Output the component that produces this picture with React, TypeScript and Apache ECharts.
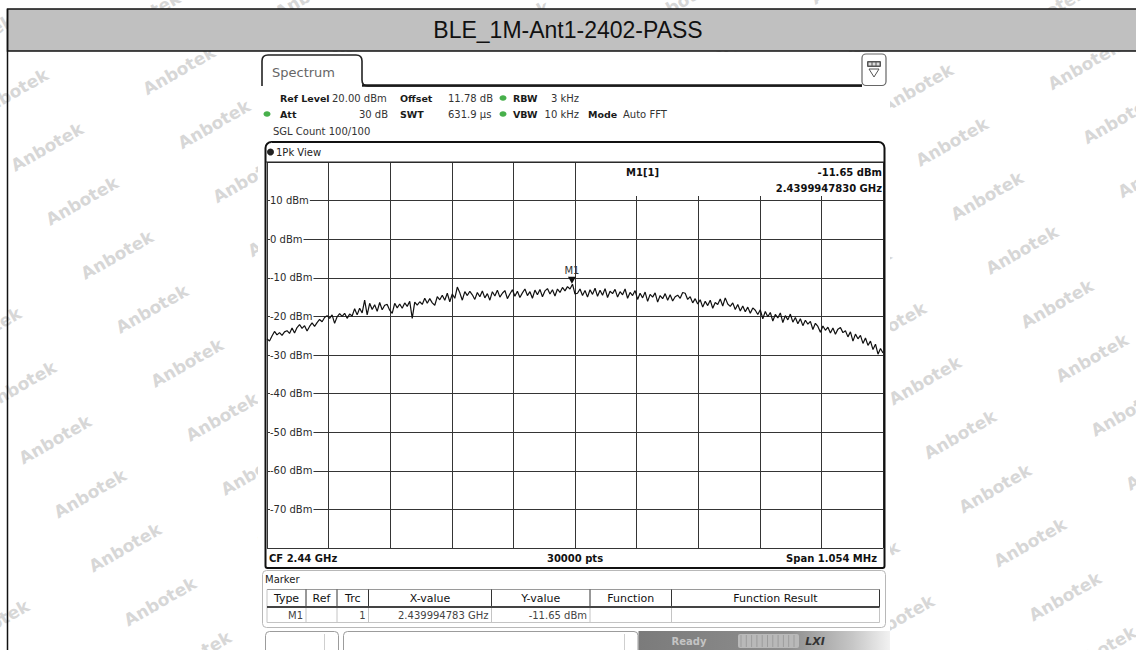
import React, { useEffect, useRef } from "react";
import * as echarts from "echarts";

// ---------- data ----------
const TITLE = "BLE_1M-Ant1-2402-PASS";
const SPAN_KHZ = 1054; // x axis: offset from start frequency (kHz), span 1.054 MHz
const Y_MIN = -80;
const Y_MAX = 20;
const Y_STEP = 10;
const yTickLabels = ["10 dBm", "0 dBm", "-10 dBm", "-20 dBm", "-30 dBm", "-40 dBm", "-50 dBm", "-60 dBm", "-70 dBm"];

// trace levels (dBm), evenly spaced across the span
const traceLevels = [
  -25.8, -26.4, -25.1, -23.9, -24.8, -24.2, -24.9, -24.0, -23.7, -24.4,
  -23.0, -24.3, -22.9, -22.1, -23.1, -22.4, -23.8, -22.6, -21.7, -22.6,
  -21.6, -20.8, -21.4, -20.3, -19.8, -20.5, -19.6, -21.8, -20.1, -19.3,
  -20.0, -19.2, -20.5, -19.4, -19.9, -18.0, -19.6, -17.9, -19.1, -15.8,
  -19.6, -16.6, -18.2, -17.0, -18.7, -16.4, -18.3, -17.1, -16.9, -18.4,
  -19.2, -16.6, -17.8, -16.8, -17.9, -16.5, -17.4, -16.1, -20.5, -16.3,
  -17.1, -16.2, -16.9, -15.3, -16.6, -15.4, -16.5, -17.1, -14.9, -15.7,
  -14.5, -15.8, -14.0, -16.2, -14.2, -15.3, -12.4, -13.9, -15.8, -13.6,
  -14.6, -13.5, -14.4, -15.6, -13.8, -14.9, -13.4, -15.2, -14.1, -15.8,
  -13.6, -14.7, -13.2, -15.0, -14.0, -13.3, -15.4, -14.2, -13.1, -14.8,
  -13.5, -15.1, -13.9, -12.9, -14.6, -13.6, -15.3, -13.2, -14.4, -13.0,
  -14.9, -13.4, -12.8, -14.2, -13.1, -14.7, -12.9, -13.8, -12.5, -13.4,
  -12.3, -12.9, -11.65, -14.2, -14.0, -12.9, -14.6, -13.3, -15.0, -13.1,
  -14.3, -12.7, -14.8, -13.2, -14.5, -12.8, -15.1, -13.5, -14.1, -13.0,
  -15.0, -13.6, -14.4, -12.9, -15.3, -13.8, -14.6, -13.3, -15.6, -14.0,
  -15.2, -13.7, -16.1, -14.3, -15.0, -13.9, -16.3, -14.6, -15.4, -14.1,
  -15.8, -14.4, -16.0, -14.9, -14.5, -15.3, -13.8, -14.0, -15.6, -14.9,
  -16.5, -15.4, -16.8, -15.7, -17.6, -16.1, -17.2, -15.8, -17.9, -16.4,
  -16.9, -15.5, -17.3, -15.2, -16.8, -17.4, -16.5, -18.2, -16.9, -18.6,
  -17.3, -18.8, -17.6, -19.2, -17.8, -18.4, -19.5, -18.3, -20.6, -18.7,
  -20.1, -19.0, -21.2, -19.5, -20.4, -19.1, -21.6, -19.8, -20.9, -19.4,
  -21.5, -20.3, -21.9, -20.6, -22.4, -21.0, -22.0, -21.3, -23.4, -21.8,
  -22.6, -24.1, -22.5, -23.6, -22.8, -24.3, -23.0, -24.6, -23.3, -22.9,
  -24.2, -23.7, -25.3, -24.0, -26.4, -24.6, -25.8, -24.9, -27.0, -25.6,
  -27.5, -26.4, -28.6, -27.2, -29.8, -28.3, -29.5,
];

const markerName = "M1";
const markerOffsetKHz = 521.783; // 2.439994783 GHz - (2.44 GHz - 0.527 MHz)
const markerLevel = -11.65;

const headerRow1 = [
  { t: "Ref Level", b: true, x: 280 },
  { t: "20.00 dBm", b: false, x: 332 },
  { t: "Offset", b: true, x: 400 },
  { t: "11.78 dB", b: false, x: 448 },
  { t: "RBW", b: true, x: 513 },
  { t: "3 kHz", b: false, x: 579, r: true },
];
const headerRow2 = [
  { t: "Att", b: true, x: 280 },
  { t: "30 dB", b: false, x: 388, r: true },
  { t: "SWT", b: true, x: 400 },
  { t: "631.9 µs", b: false, x: 448 },
  { t: "VBW", b: true, x: 513 },
  { t: "10 kHz", b: false, x: 579, r: true },
  { t: "Mode", b: true, x: 588 },
  { t: "Auto FFT", b: false, x: 623 },
];
const tableHeaders = ["Type", "Ref", "Trc", "X-value", "Y-value", "Function", "Function Result"];
const tableRow = ["M1", "", "1", "2.439994783 GHz", "-11.65 dBm", "", ""];

// ---------- drawing helpers ----------
const FONT = '"DejaVu Sans", sans-serif';
const TAB_PATH = "M262 86 L262 61 Q262 55 268 55 L356 55 Q362 55 362 61 L362 80 Q362 86 368 86 L862 86";
try {
  echarts.graphic.registerShape("tabShape", echarts.graphic.extendPath(TAB_PATH, {}) as any);
} catch (e) {}

function txt(x: number, y: number, text: string, o: any = {}) {
  const size = o.size ?? 10;
  const weight = o.bold ? "bold " : "";
  const italic = o.italic ? "italic " : "";
  const align = o.align ?? "left";
  return {
    type: "text",
    x,
    y,
    z: o.z ?? 100,
    rotation: o.rotation ?? 0,
    silent: true,
    style: {
      text,
      font: `${italic}${weight}${size}px ${o.family ?? FONT}`,
      fill: o.color ?? "#222",
      align,
      textAlign: align,
      verticalAlign: "middle",
      textVerticalAlign: "middle",
    },
  };
}
function line(x1: number, y1: number, x2: number, y2: number, color: string, w = 1, z = 100) {
  return { type: "line", z, silent: true, shape: { x1, y1, x2, y2 }, style: { stroke: color, lineWidth: w } };
}
function rect(x: number, y: number, w: number, h: number, style: any, r: any = 0, z = 100) {
  return { type: "rect", z, silent: true, shape: { x, y, width: w, height: h, r }, style };
}

function buildGraphics() {
  const g: any[] = [];
  // watermark lattice
  for (let i = -10; i <= 18; i++) {
    for (let j = -4; j <= 10; j++) {
      const x = 47 + 35 * i + 167 * j;
      const y = 147 + 54 * i - 22.6 * j;
      if (x > -70 && x < 1210 && y > -30 && y < 695) {
        g.push(txt(x, y, "Anbotek", { size: 17, bold: true, color: "#d7d7d7", align: "center", rotation: 0.52, z: -3 }));
      }
    }
  }
  // title band and outer frame
  g.push(rect(7.5, 9, 1140, 42, { fill: "#c0c0c0", stroke: "#111", lineWidth: 1.5 }, 0, -2));
  g.push(line(7.5, 9, 7.5, 660, "#111", 1.5, -2));
  g.push(txt(568, 30, TITLE, { size: 23, family: '"Liberation Sans", Arial, sans-serif', color: "#111", align: "center", z: -1 }));
  // screenshot background
  g.push(rect(258, 52, 632, 600, { fill: "#fff" }, 0, -2));

  // tab + header
  g.push({ type: "tabShape", x: 0, y: 0, z: 100, silent: true, style: { fill: "none", stroke: "#222", lineWidth: 1.6 } });
  g.push(line(362, 85.5, 862, 85.5, "#1a1a1a", 2.4));
  g.push(txt(272, 72, "Spectrum", { size: 13, color: "#666" }));
  // icon
  g.push(rect(862, 54, 24, 31.5, { fill: "#fff", stroke: "#666", lineWidth: 1.2 }, 4));
  g.push(rect(867, 61, 14, 6, { fill: "#555" }, 1));
  g.push(rect(868.5, 62.5, 3, 3, { fill: "#ddd" }));
  g.push(rect(872.5, 62.5, 3, 3, { fill: "#ddd" }));
  g.push(rect(876.5, 62.5, 3, 3, { fill: "#ddd" }));
  g.push({ type: "polygon", z: 100, silent: true, shape: { points: [[869, 69], [879, 69], [874, 77]] }, style: { fill: "none", stroke: "#555", lineWidth: 1 } });

  headerRow1.forEach((h) => g.push(txt(h.x, 98, h.t, { bold: h.b, size: h.b ? 9.5 : 10, color: h.b ? "#1a1a1a" : "#333", align: h.r ? "right" : "left" })));
  headerRow2.forEach((h) => g.push(txt(h.x, 114, h.t, { bold: h.b, size: h.b ? 9.5 : 10, color: h.b ? "#1a1a1a" : "#333", align: h.r ? "right" : "left" })));
  g.push(txt(273, 131, "SGL Count 100/100", { color: "#333" }));
  [[503, 98], [267, 114], [503, 114]].forEach(([cx, cy]) =>
    g.push({ type: "ellipse", z: 100, silent: true, shape: { cx, cy, rx: 3.5, ry: 2.8 }, style: { fill: "#47b04b" } })
  );

  // diagram frame
  g.push(rect(265.5, 142, 619, 426, { fill: "none", stroke: "#111", lineWidth: 2 }, [6, 6, 2, 2]));
  g.push(line(266, 162, 884, 162, "#222", 1.2));
  g.push({ type: "circle", z: 100, silent: true, shape: { cx: 270.5, cy: 152, r: 3.5 }, style: { fill: "#222" } });
  g.push(txt(276, 152, "1Pk View", { color: "#222" }));
  // marker info box
  g.push(rect(577, 163, 305.5, 33, { fill: "#fff" }));
  g.push(txt(626, 172, "M1[1]", { bold: true, color: "#111" }));
  g.push(txt(882, 172, "-11.65 dBm", { bold: true, color: "#111", align: "right" }));
  g.push(txt(882, 188, "2.4399947830 GHz", { bold: true, color: "#111", align: "right" }));
  // status row
  g.push(txt(269, 558, "CF 2.44 GHz", { bold: true, color: "#111" }));
  g.push(txt(575, 558, "30000 pts", { bold: true, color: "#111", align: "center" }));
  g.push(txt(877, 558, "Span 1.054 MHz", { bold: true, color: "#111", align: "right" }));

  // marker panel
  g.push(rect(262.5, 570.5, 623, 57, { fill: "#fff", stroke: "#b8b8b8", lineWidth: 1 }, 4));
  g.push(txt(265, 579, "Marker", { color: "#222" }));
  const cols = [267, 306, 337, 368.5, 491.5, 590, 671.5, 879.5];
  g.push(line(267, 589.5, 879.5, 589.5, "#9a9a9a", 1));
  g.push(line(267, 622.5, 879.5, 622.5, "#c4c4c4", 1));
  g.push(line(267, 589.5, 267, 622.5, "#c4c4c4", 1));
  cols.slice(1).forEach((cx) => {
    g.push(line(cx, 589.5, cx, 607, "#333", 1));
    g.push(line(cx, 607, cx, 622.5, "#c4c4c4", 1));
  });
  g.push(line(267, 607, 879.5, 607, "#444", 2));
  tableHeaders.forEach((h, k) => g.push(txt((cols[k] + cols[k + 1]) / 2, 598, h, { size: 11, color: "#111", align: "center" })));
  tableRow.forEach((v, k) => {
    if (v) g.push(txt(cols[k + 1] - 3, 615.5, v, { color: "#444", align: "right" }));
  });

  // bottom bar
  g.push(rect(265.5, 631.5, 73, 25, { fill: "#fff", stroke: "#9c9c9c", lineWidth: 1 }, [4, 4, 0, 0]));
  g.push(line(324.5, 634, 324.5, 650, "#cfcfcf", 1));
  g.push(rect(343.5, 631.5, 294.5, 25, { fill: "#fff", stroke: "#9c9c9c", lineWidth: 1 }, [4, 4, 0, 0]));
  g.push(line(624.5, 634, 624.5, 650, "#cfcfcf", 1));
  g.push(
    rect(638.5, 631, 251.5, 20, {
      fill: new echarts.graphic.LinearGradient(0, 0, 1, 0, [
        { offset: 0, color: "#7b7b7b" },
        { offset: 0.6, color: "#8e8e8e" },
        { offset: 0.85, color: "#c6c6c6" },
        { offset: 1, color: "#f2f2f2" },
      ]),
    })
  );
  g.push(txt(689, 641, "Ready", { bold: true, color: "#c4c4c4", align: "center" }));
  g.push(rect(738, 634, 61, 14, { fill: "#b9b9b9" }, 2));
  for (let k = 0; k < 11; k++) g.push(line(741 + k * 5.3, 635, 741 + k * 5.3, 647, "#9d9d9d", 1));
  g.push(txt(815, 641, "LXI", { bold: true, italic: true, size: 11, color: "#333", align: "center" }));
  return g;
}

export default function App() {
  const ref = useRef<HTMLDivElement>(null);
  useEffect(() => {
    if (!ref.current) return;
    const chart = echarts.init(ref.current, null, { renderer: "svg" });
    const n = traceLevels.length;
    const data = traceLevels.map((v, i) => [(i * SPAN_KHZ) / (n - 1), v]);
    chart.setOption({
      animation: false,
      backgroundColor: "#fff",
      textStyle: { fontFamily: FONT },
      grid: { left: 267, top: 162, width: 616, height: 386, containLabel: false },
      xAxis: {
        type: "value",
        min: 0,
        max: SPAN_KHZ,
        interval: SPAN_KHZ / 10,
        axisLine: { show: false },
        axisTick: { show: false },
        axisLabel: { show: false },
        splitLine: { show: true, lineStyle: { color: "#353535", width: 1 } },
      },
      yAxis: {
        type: "value",
        min: Y_MIN,
        max: Y_MAX,
        interval: Y_STEP,
        axisLine: { show: false },
        axisTick: { show: false },
        axisLabel: {
          inside: true,
          margin: 3,
          showMinLabel: false,
          showMaxLabel: false,
          color: "#2a2a2a",
          fontSize: 10,
          fontFamily: FONT,
          backgroundColor: "#fff",
          padding: [1, 1, 1, 0],
          formatter: (v: number) => {
            const idx = Math.round((10 - v) / Y_STEP);
            return yTickLabels[idx] ?? "";
          },
        },
        splitLine: { show: true, lineStyle: { color: "#353535", width: 1 } },
      },
      series: [
        {
          type: "line",
          data,
          symbol: "none",
          showSymbol: false,
          z: 5,
          lineStyle: { color: "#111", width: 1.2 },
          markPoint: {
            symbol: "triangle",
            symbolRotate: 180,
            symbolSize: [8, 7],
            symbolOffset: [0, -4],
            itemStyle: { color: "#111" },
            label: { show: true, position: "top", distance: 1, formatter: markerName, color: "#333", fontSize: 10, fontFamily: FONT },
            data: [{ coord: [markerOffsetKHz, markerLevel] }],
          },
        },
      ],
      graphic: { elements: buildGraphics() },
    });
    return () => chart.dispose();
  }, []);
  return <div ref={ref} style={{ position: "fixed", left: 0, top: 0, width: 1136, height: 650 }} />;
}
